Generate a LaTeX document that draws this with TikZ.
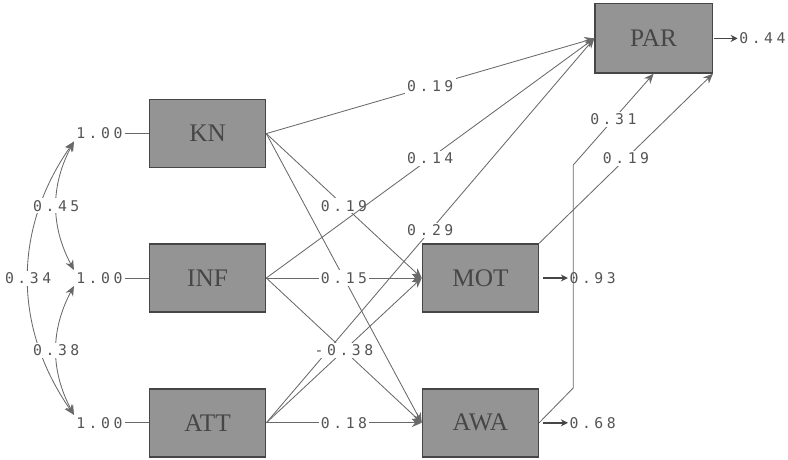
\documentclass[tikz,border=0pt]{standalone}
\usepackage{fontspec}
\usepackage{tikz}
\usepackage{xcolor}
\usetikzlibrary{arrows.meta,positioning,calc}
\newfontfamily\varfont{Liberation Serif}
\newfontfamily\numfont[LetterSpace=24]{DejaVu Sans Mono}
\definecolor{boxgray}{RGB}{148,148,148}
\definecolor{edgegray}{RGB}{70,70,70}
\definecolor{linegray}{RGB}{105,105,105}
\definecolor{numgray}{RGB}{85,85,85}

\tikzset{
  var/.style={rectangle, draw=edgegray, line width=1pt, fill=boxgray, minimum width=2.9cm, minimum height=1.7cm, font=\varfont\fontsize{18}{18}\selectfont, text=edgegray},
  coef/.style={fill=white, inner sep=1.5pt, font=\numfont\fontsize{10.5}{10.5}\selectfont, text=numgray},
  errlab/.style={inner sep=1pt, font=\numfont\fontsize{10.5}{10.5}\selectfont, text=numgray},
  eff/.style={draw=linegray, line width=0.6pt, -{Stealth[length=7pt,width=6pt]}},
  corr/.style={draw=linegray, line width=0.6pt, {Stealth[length=7pt,width=6pt]}-{Stealth[length=7pt,width=6pt]}},
  errarr/.style={draw=edgegray, line width=1.2pt, -{Stealth[length=5pt,width=5pt]}}
}

\begin{document}
\begin{tikzpicture}
\useasboundingbox (0,0) rectangle (19.7,11.5);

% variabili osservate
\node[var] (KN) at (5.19,8.16) {KN};
\node[var] (INF) at (5.19,4.55) {INF};
\node[var] (ATT) at (5.19,0.93) {ATT};
\node[var] (MOT) at (12.01,4.55) {MOT};
\node[var] (AWA) at (12.01,0.93) {AWA};
\node[var, minimum width=2.93cm, minimum height=1.73cm] (PAR) at (16.34,10.54) {PAR};

% varianze esogene
\node[coef, left=0.6cm of KN] (vKN) {1.00};
\node[coef, left=0.6cm of INF] (vINF) {1.00};
\node[coef, left=0.6cm of ATT] (vATT) {1.00};
\draw[linegray, line width=0.6pt] (vKN) -- (KN);
\draw[linegray, line width=0.6pt] (vINF) -- (INF);
\draw[linegray, line width=0.6pt] (vATT) -- (ATT);

% correlazioni
\draw[corr] (vKN.south west) to[bend right=35] node[coef] {0.34} (vATT.north west);
\draw[corr] (vKN.south west) to[bend right=28] node[coef] {0.45} (vINF.north west);
\draw[corr] (vINF.south west) to[bend right=28] node[coef] {0.38} (vATT.north west);

% effetti diretti
\draw[eff] (KN.east) -- (AWA.west);
\draw[eff] (ATT.east) -- (MOT.west);
\draw[eff] (ATT.east) -- node[coef] {0.29} (PAR.west);
\draw[eff] (KN.east) -- node[coef] {0.19} (PAR.west);
\draw[eff] (KN.east) -- node[coef] {0.19} (MOT.west);
\draw[eff] (INF.east) -- node[coef] {0.14} (PAR.west);
\draw[eff] (INF.east) -- node[coef] {0.15} (MOT.west);
\draw[eff] (INF.east) -- node[coef] {-0.38} (AWA.west);
\draw[eff] (ATT.east) -- node[coef] {0.18} (AWA.west);

\draw[eff] (MOT.north east) -- node[coef] {0.19} (PAR.south east);
\coordinate (b1) at (14.33,1.8);
\coordinate (b2) at (14.33,7.375);
\draw[eff] (AWA.east) -- (b1) -- (b2) -- node[coef] {0.31} (PAR.south);

% errori
\node[errlab, right=0.62cm of PAR] (ePAR) {0.44};
\node[errlab, right=0.72cm of MOT] (eMOT) {0.93};
\node[errlab, right=0.72cm of AWA] (eAWA) {0.68};
\draw[errarr] ([xshift=1pt]PAR.east) -- (ePAR);
\draw[errarr] ([xshift=3pt]MOT.east) -- (eMOT);
\draw[errarr] ([xshift=3pt]AWA.east) -- (eAWA);
\end{tikzpicture}
\end{document}
